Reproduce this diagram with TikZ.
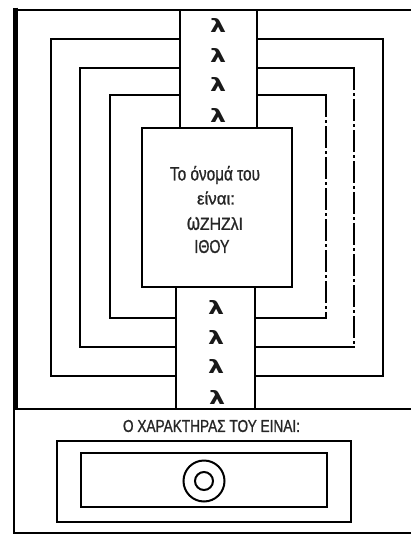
\documentclass[tikz,border=0pt]{standalone}
\usepackage{fontspec}
\setmainfont{Liberation Sans}
\newfontfamily\txtfont{Liberation Sans}[FakeBold=1.2]
\newfontfamily\lamfont{DejaVu Sans}
\usepackage{graphicx}
\tikzset{
  ln/.style={line width=2pt, line join=miter},
  rc/.style={ln, line cap=rect},
  dd/.style={ln, dash pattern=on 22pt off 3pt on 3pt off 3pt},
  lam/.style={inner sep=0pt, font=\lamfont\bfseries, text=black!90},
  txt/.style={inner sep=0pt, text=black!85, font=\txtfont},
  frame/.style={draw, ln, inner sep=0pt}
}
\newcommand\fitto[3]{\resizebox{#1}{#2}{#3}}
\begin{document}
\begin{tikzpicture}[x=1pt,y=-1pt]
\useasboundingbox (0,0) rectangle (411,536);
% outer frame
\coordinate (ftl) at (15,10);
\coordinate (ftr) at (411,10);
\coordinate (fml) at (15,409);
\coordinate (fmr) at (411,409);
\coordinate (fbl) at (14,533);
\coordinate (fbr) at (411,533);
\draw[ln] (ftl) -- (ftr);
\draw[line width=5pt] (15,7.5) -- (fml);
\draw[line width=2.5pt, line cap=rect] (14,409) -- (fbl) -- (fbr);
\draw[ln] (fml) -- (fmr);
% central box
\node[frame, minimum width=150pt, minimum height=159pt] (box) at (217,207.5) {};
% strips
\draw[ln] (180,10) -- (180,0 |- box.north);
\draw[ln] (257,10) -- (257,0 |- box.north);
\draw[ln] (176,0 |- box.south) -- (176,409);
\draw[ln] (255,0 |- box.south) -- (255,409);
% brackets level 1
\draw[ln] (180,39) -- (51,39) -- (51,376) -- (176,376);
\draw[ln] (257,39) -- (383,39) -- (383,376) -- (255,376);
% level 2
\draw[ln] (180,68) -- (80,68) -- (80,347) -- (176,347);
\draw[rc] (257,68) -- (354,68);
\draw[dd] (354,68) -- (354,347);
\draw[rc] (354,347) -- (255,347);
% level 3
\draw[ln] (180,95) -- (110,95) -- (110,318) -- (176,318);
\draw[rc] (257,95) -- (326,95);
\draw[dd] (326,95) -- (326,318);
\draw[rc] (326,318) -- (255,318);
% lambdas
\foreach \n/\x/\y in {a/218/25, b/218/55, c/218/84, d/218/115, e/216/307, f/216/337, g/216/366, h/217/397}{
  \node[lam] (l\n) at (\x,\y) {\fitto{16pt}{14pt}{λ}};
}
% text in box
\node[txt] (t1) at (215,175) {\fitto{90pt}{14.5pt}{Το όνομά του}};
\node[txt] (t2) at (216,198) {\fitto{38pt}{13pt}{είναι:}};
\node[txt] (t3) at (215,223.5) {\fitto{56pt}{13pt}{\scalebox{1.05}[1.38]{ω}ΖΗΖλΙ}};
\node[txt] (t4) at (212,246.5) {\fitto{35pt}{13pt}{ΙΘΟΥ}};
% bottom part
\node[txt] (ch) at (211.5,426) {\fitto{177pt}{12pt}{Ο ΧΑΡΑΚΤΗΡΑΣ ΤΟΥ ΕΙΝΑΙ:}};
\node[frame, minimum width=294pt, minimum height=81pt] (ob) at (204,481.5) {};
\node[frame, minimum width=246pt, minimum height=54pt] (ib) at (204,480) {};
\node[draw, ln, circle, minimum size=41pt, inner sep=0pt] (oc) at (204,481) {};
\node[draw, ln, circle, minimum size=18pt, inner sep=0pt] (ic) at (204,481) {};
\end{tikzpicture}
\end{document}
